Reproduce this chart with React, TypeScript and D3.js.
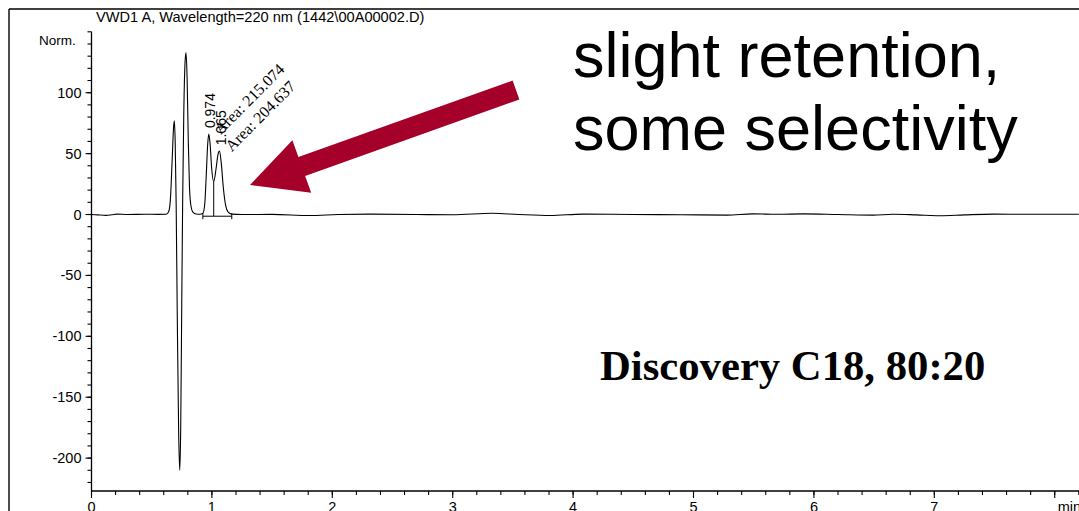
import React from "react";
import * as d3 from "d3";

// chromatogram trace (time in min, signal in Norm.)
const times = [
  0, 0.05, 0.12, 0.17, 0.21, 0.3, 0.45, 0.55, 0.62, 0.64, 0.655, 0.67, 0.682, 0.688,
  0.695, 0.703, 0.712, 0.724, 0.733, 0.741, 0.749, 0.757, 0.766, 0.777, 0.785, 0.794,
  0.804, 0.814, 0.826, 0.842, 0.87, 0.9, 0.925, 0.94, 0.953, 0.964, 0.974, 0.985, 0.998,
  1.015, 1.035, 1.05, 1.063, 1.078, 1.095, 1.115, 1.135, 1.165, 1.25, 1.5, 1.81, 2.05,
  2.31, 2.7, 3.0, 3.33, 3.55, 3.81, 4.08, 4.5, 4.9, 5.28, 5.49, 5.7, 5.91, 6.2, 6.49,
  6.66, 6.85, 7.05, 7.25, 7.49, 7.8, 8.2,
];
const signal = [
  0, -0.3, -0.7, -0.2, 0.3, 0, 0.2, 0.1, 0.2, 2, 12, 45, 72, 77,
  60, 10, -80, -180, -210, -175, -80, 10, 80, 125, 133, 112,
  60, 22, 7, 2, 0.4, 0.2, 1, 8, 32, 56, 66, 58, 38,
  27, 38, 49, 52, 42, 22, 7, 2, 0.3, 0, 0.1, -0.8, 0,
  0.3, 0, -0.2, 1.0, 0, -0.8, 0.3, 0, -0.2, -0.5, 0.5, 0.2, 0.5, 0, -0.5,
  0.2, -0.3, -1.0, -0.3, 0.3, 0.2, 0.2,
];

// integrated peaks
const peakTimes = [0.974, 1.065];
const peakApex = [66, 52];
const peakAreas = [215.074, 204.637];
const integStart = 0.925;
const integEnd = 1.165;
const integValley = 1.015;
const valleyValue = 27;
const integLevel = -1.4;

// axes
const yMajor = [-200, -150, -100, -50, 0, 50, 100];
const yMinor = d3.range(-220, 151, 10);
const xMajor = [0, 1, 2, 3, 4, 5, 6, 7, 8];
const xLabels = ["0", "1", "2", "3", "4", "5", "6", "7", "min"];
const xMinor = d3.range(0, 8.21, 0.2);

const sans = "'Liberation Sans', Arial, sans-serif";
const serif = "'Liberation Serif', 'Times New Roman', serif";
const arrowColor = "#a4002a";

function arrowPath(tail: [number, number], tip: [number, number], shaft: number, headLen: number, headW: number) {
  const dx = tip[0] - tail[0], dy = tip[1] - tail[1];
  const len = Math.hypot(dx, dy);
  const ux = dx / len, uy = dy / len;
  const nx = -uy, ny = ux;
  const bx = tip[0] - ux * headLen, by = tip[1] - uy * headLen;
  const pts = [
    [tail[0] + nx * shaft / 2, tail[1] + ny * shaft / 2],
    [bx + nx * shaft / 2, by + ny * shaft / 2],
    [bx + nx * headW / 2, by + ny * headW / 2],
    tip,
    [bx - nx * headW / 2, by - ny * headW / 2],
    [bx - nx * shaft / 2, by - ny * shaft / 2],
    [tail[0] - nx * shaft / 2, tail[1] - ny * shaft / 2],
  ];
  return "M" + pts.map((p) => p.join(",")).join("L") + "Z";
}

export default function App() {
  const W = 1079, H = 511;
  const x = d3.scaleLinear().domain([0, 8.2]).range([91.5, 1078.8]);
  const y = d3.scaleLinear().domain([-227, 150]).range([491, 31.8]);

  const line = d3
    .line<number>()
    .x((_, i) => x(times[i]))
    .y((d) => y(d))
    .curve(d3.curveMonotoneX);

  return (
    <div style={{ position: "absolute", left: 0, top: 0 }}>
      <svg width={W} height={H} style={{ display: "block", background: "#fff" }}>
        {/* outer frame */}
        <line x1={9} y1={9} x2={W} y2={9} stroke="#000" strokeWidth={1.4} />
        <line x1={9} y1={9} x2={9} y2={H} stroke="#000" strokeWidth={1.4} />

        <text x={96} y={22} fontFamily={sans} fontSize={14.6}>
          VWD1 A, Wavelength=220 nm (1442\00A00002.D)
        </text>
        <text x={39} y={45} fontFamily={sans} fontSize={13.5}>
          Norm.
        </text>

        {/* y axis */}
        <line x1={x(0)} y1={y(150)} x2={x(0)} y2={y(-227)} stroke="#000" strokeWidth={1.3} />
        {yMinor.map((v) => (
          <line key={"ym" + v} x1={x(0) - 4} x2={x(0)} y1={y(v)} y2={y(v)} stroke="#000" strokeWidth={1.1} />
        ))}
        {yMajor.map((v) => (
          <g key={"yM" + v}>
            <line x1={x(0) - 6} x2={x(0)} y1={y(v)} y2={y(v)} stroke="#000" strokeWidth={1.1} />
            <text x={x(0) - 10} y={y(v) + 5} textAnchor="end" fontFamily={sans} fontSize={14.5}>
              {v}
            </text>
          </g>
        ))}

        {/* x axis */}
        <line x1={x(0)} y1={y(-227)} x2={W} y2={y(-227)} stroke="#000" strokeWidth={1.3} />
        {xMinor.map((t) => (
          <line key={"xm" + t} x1={x(t)} x2={x(t)} y1={y(-227)} y2={y(-227) + 4} stroke="#000" strokeWidth={1.1} />
        ))}
        {xMajor.map((t, i) => (
          <g key={"xM" + t}>
            <line x1={x(t)} x2={x(t)} y1={y(-227)} y2={y(-227) + 7} stroke="#000" strokeWidth={1.1} />
            <text
              x={xLabels[i] === "min" ? x(t) + 3 : x(t)}
              y={512}
              textAnchor={xLabels[i] === "min" ? "start" : "middle"}
              fontFamily={sans}
              fontSize={14.5}
            >
              {xLabels[i]}
            </text>
          </g>
        ))}

        {/* trace */}
        <path d={line(signal) ?? ""} fill="none" stroke="#000" strokeWidth={1.1} />

        {/* integration baseline and drop line */}
        <line x1={x(integStart)} x2={x(integEnd)} y1={y(integLevel)} y2={y(integLevel)} stroke="#000" strokeWidth={1} />
        <line x1={x(integStart)} x2={x(integStart)} y1={y(integLevel) - 3} y2={y(integLevel) + 3} stroke="#000" strokeWidth={1} />
        <line x1={x(integEnd)} x2={x(integEnd)} y1={y(integLevel) - 3} y2={y(integLevel) + 3} stroke="#000" strokeWidth={1} />
        <line x1={x(integValley)} x2={x(integValley)} y1={y(integLevel)} y2={y(valleyValue)} stroke="#000" strokeWidth={1} />

        {/* peak labels */}
        {peakTimes.map((t, i) => (
          <g key={"pk" + t}>
            <text
              transform={`translate(${x(t) + 6},${y(peakApex[i]) - 6}) rotate(-90)`}
              fontFamily={sans}
              fontSize={14}
            >
              {t.toFixed(3)}
            </text>
            <text
              transform={`translate(${x(t) + 12},${y(peakApex[i]) + 1}) rotate(-45)`}
              fontFamily={serif}
              fontSize={16}
            >
              {"Area: " + peakAreas[i].toFixed(3)}
            </text>
          </g>
        ))}

        {/* annotation arrow */}
        <path d={arrowPath([516, 90], [250, 185], 20, 55, 56)} fill={arrowColor} />

        <text x={573} y={77} fontFamily={sans} fontSize={63}>
          slight retention,
        </text>
        <text x={573} y={150} fontFamily={sans} fontSize={63}>
          some selectivity
        </text>
        <text x={600} y={380} fontFamily={serif} fontWeight="bold" fontSize={42.7}>
          Discovery C18, 80:20
        </text>
      </svg>
    </div>
  );
}
